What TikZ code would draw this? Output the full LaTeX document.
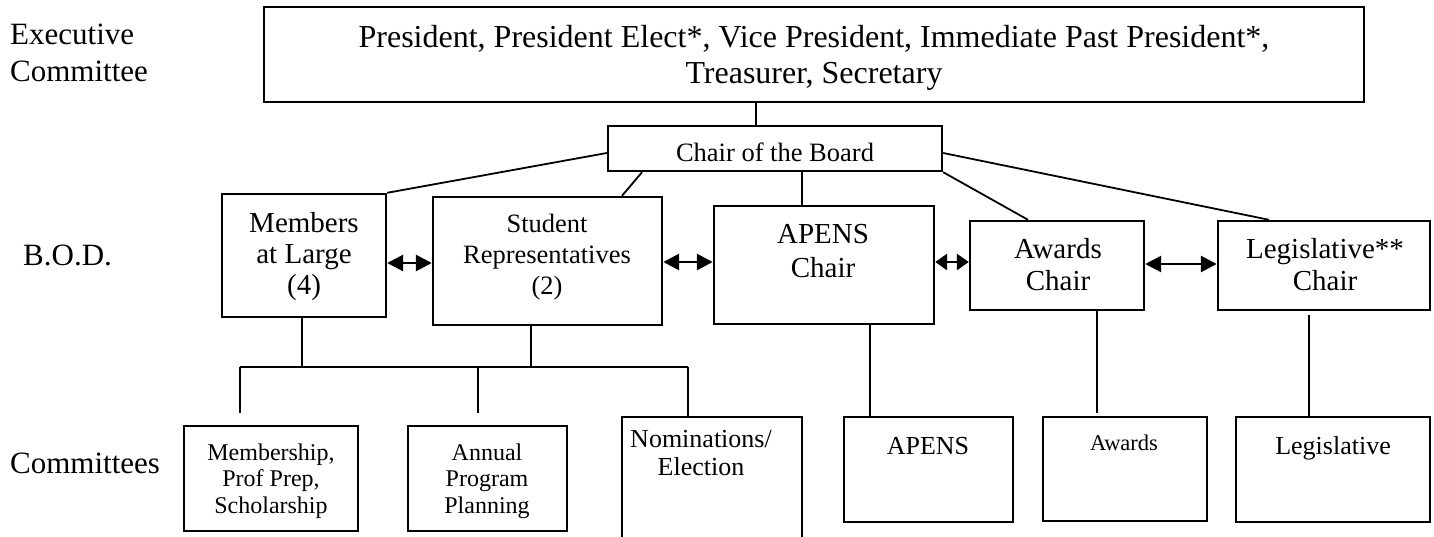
\documentclass[tikz,border=0pt]{standalone}
\usepackage{fontspec}
\setmainfont{Liberation Serif}
\usetikzlibrary{arrows.meta}
\begin{document}
\begin{tikzpicture}[x=1pt,y=-1pt,
  bx/.style 2 args={draw, line width=2.4pt, inner sep=0pt, minimum width=#1, minimum height=#2},
  link/.style={line width=1.8pt},
  dbl/.style={line width=2.8pt, {Triangle[length=#1,width=16pt]}-{Triangle[length=#1,width=16pt]}},
  dbl/.default=16pt,
  lbl/.style={inner sep=0pt, anchor=north, align=center},
  side/.style={inner sep=0pt, font=\fontsize{31}{37}\selectfont}
]
\useasboundingbox (0,0) rectangle (1434,536);
\clip (0,0) rectangle (1434,536);

% ---- boxes
\node[bx={1100pt}{95pt}] (exec) at (814,54.5) {};
\node[bx={334pt}{45pt}] (chair) at (775,148.5) {};
\node[bx={164pt}{123pt}] (members) at (304,255.5) {};
\node[bx={229pt}{128pt}] (student) at (547.5,261) {};
\node[bx={220pt}{118pt}] (apensC) at (824,265) {};
\node[bx={174pt}{89pt}] (awardsC) at (1057,265.5) {};
\node[bx={212pt}{89pt}] (legisC) at (1324,265.5) {};
\node[bx={174pt}{105pt}] (memb) at (271,478.5) {};
\node[bx={159pt}{105pt}] (annual) at (487.5,478.5) {};
\node[bx={180pt}{140pt}] (nomin) at (712,487) {};
\node[bx={169pt}{105pt}] (apensCom) at (928.5,469.5) {};
\node[bx={164pt}{104pt}] (awardsCom) at (1125,469) {};
\node[bx={194pt}{105pt}] (legisCom) at (1333,469.5) {};

% ---- texts
\node[side, anchor=north west, align=left] (lblExec) at (10,18.1) {\strut Executive\\Committee};
\node[side, anchor=base west] (lblBod) at (23,265) {B.O.D.};
\node[side, anchor=base west] (lblCom) at (10,473) {Committees};

\node[lbl, font=\fontsize{32}{36}\selectfont] (tExec) at (814,21.8)
  {\strut President, President Elect*, Vice President, Immediate Past President*,\\Treasurer, Secretary};
\node[inner sep=0pt, anchor=base, font=\fontsize{26.5}{30}\selectfont] (tChair) at (775,161) {Chair of the Board};
\node[lbl, font=\fontsize{29}{31}\selectfont] (tMembers) at (304,210.3) {\strut Members\\at Large\\(4)};
\node[lbl, font=\fontsize{26.5}{31}\selectfont] (tStudent) at (547,210.3) {\strut Student\\Representatives\\(2)};
\node[lbl, font=\fontsize{29}{34}\selectfont] (tApensC) at (823,219.2) {\strut APENS\\Chair};
\node[lbl, font=\fontsize{29}{32}\selectfont] (tAwardsC) at (1058,235.6) {\strut Awards\\Chair};
\node[lbl, font=\fontsize{29}{32}\selectfont] (tLegisC) at (1325,235.6) {\strut Legislative**\\Chair};
\node[lbl, font=\fontsize{24}{26.5}\selectfont] (tMemb) at (271,441.45) {\strut Membership,\\Prof Prep,\\Scholarship};
\node[lbl, font=\fontsize{24}{26.5}\selectfont] (tAnnual) at (487,441.45) {\strut Annual\\Program\\Planning};
\node[lbl, font=\fontsize{26}{28}\selectfont] (tNomin) at (701,427.4) {\strut Nominations/\\Election};
\node[inner sep=0pt, anchor=base, font=\fontsize{26}{30}\selectfont] (tApensCom) at (928,454) {APENS};
\node[inner sep=0pt, anchor=base, font=\fontsize{22.5}{27}\selectfont] (tAwardsCom) at (1124,450) {Awards};
\node[inner sep=0pt, anchor=base, font=\fontsize{26}{30}\selectfont] (tLegisCom) at (1333,454) {Legislative};

% ---- helper coordinates
\coordinate (xExec) at (756,0);
\coordinate (xStu) at (642,0);
\coordinate (xStuTop) at (622,0);
\coordinate (xApens) at (802,0);
\coordinate (xAwTop) at (1028,0);
\coordinate (xLegTop) at (1269,0);
\coordinate (yChairR) at (0,153);
\coordinate (bar) at (0,367);
\coordinate (xMem) at (302,0);
\coordinate (xSt) at (531,0);
\coordinate (barL) at (240,367);
\coordinate (barM) at (478,367);
\coordinate (barR) at (688,367);
\coordinate (dropA) at (240,413);
\coordinate (dropB) at (478,413);
\coordinate (xApDown) at (870,0);
\coordinate (xAwDown) at (1097,0);
\coordinate (awEnd) at (1097,413);
\coordinate (legStart) at (1309,315);

% ---- connectors
\draw[link] (exec.south -| xExec) -- (chair.north -| xExec);
\draw[link] (chair.west |- yChairR) -- (members.north east);
\draw[link] (chair.south -| xStu) -- (student.north -| xStuTop);
\draw[link] (chair.south -| xApens) -- (apensC.north -| xApens);
\draw[link] (chair.south east) -- (awardsC.north -| xAwTop);
\draw[link] (chair.east |- yChairR) -- (legisC.north -| xLegTop);

\coordinate (rowA) at (0,263);
\coordinate (rowB) at (0,262);
\coordinate (rowC) at (0,264);
\draw[dbl] (members.east |- rowA) -- (student.west |- rowA);
\draw[dbl] (student.east |- rowB) -- (apensC.west |- rowB);
\draw[dbl=12pt] (apensC.east |- rowB) -- (awardsC.west |- rowB);
\draw[dbl] (awardsC.east |- rowC) -- (legisC.west |- rowC);

\draw[link] (members.south -| xMem) -- (bar -| xMem);
\draw[link] (student.south -| xSt) -- (bar -| xSt);
\draw[link] (barL) -- (barR);
\draw[link] (barL) -- (dropA);
\draw[link] (barM) -- (dropB);
\draw[link] (barR) -- (nomin.north -| barR);

\draw[link] (apensC.south -| xApDown) -- (apensCom.north -| xApDown);
\draw[link] (awardsC.south -| xAwDown) -- (awEnd);
\draw[link] (legStart) -- (legisCom.north -| legStart);
\end{tikzpicture}
\end{document}
